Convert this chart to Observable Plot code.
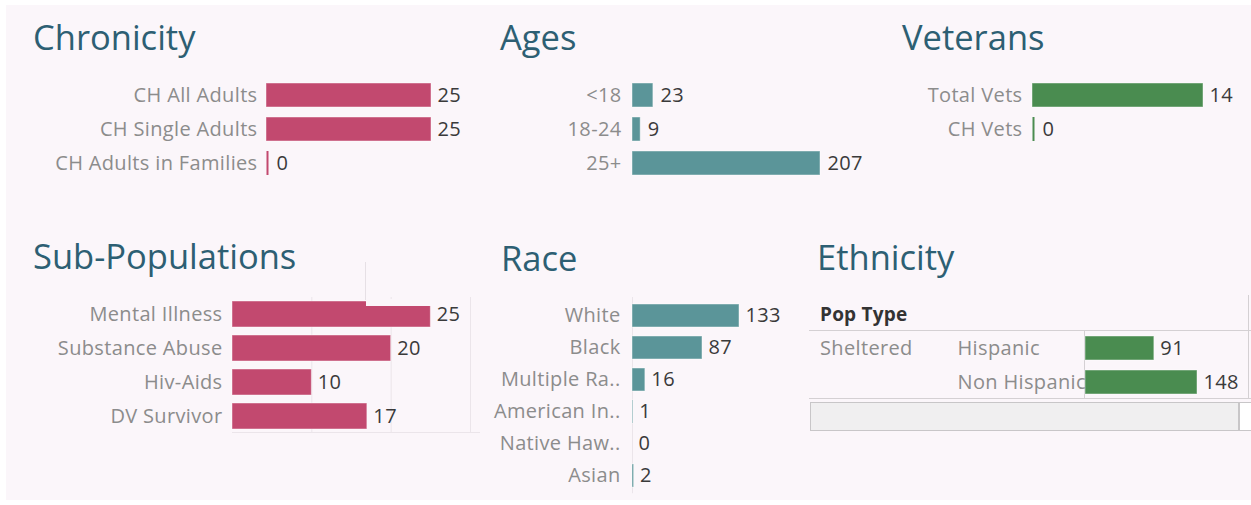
<!DOCTYPE html>
<html><head><meta charset="utf-8">
<script src="https://cdn.jsdelivr.net/npm/d3@7"></script>
<script src="https://cdn.jsdelivr.net/npm/@observablehq/plot@0.6"></script>
<style>
body{margin:0;background:#fff;}
#dash{position:relative;width:1251px;height:505px;overflow:hidden;font-family:"Open Sans",sans-serif;}
#bg{position:absolute;left:6px;top:5px;width:1245px;height:495px;background:#fbf6fa;}
.title{position:absolute;font-size:34.5px;color:#2d5f73;line-height:1;white-space:nowrap;}
.panel{position:absolute;}
.line{position:absolute;background:#d4d0d3;}
.txt{position:absolute;font-size:20px;letter-spacing:0.35px;line-height:1;white-space:nowrap;}
</style></head>
<body><div id="dash"><div id="bg"></div></div>
<script>
const chronCats = ["CH All Adults","CH Single Adults","CH Adults in Families"];
const chronVals = [25,25,0];
const ageCats = ["<18","18-24","25+"];
const ageVals = [23,9,207];
const vetCats = ["Total Vets","CH Vets"];
const vetVals = [14,0];
const subCats = ["Mental Illness","Substance Abuse","Hiv-Aids","DV Survivor"];
const subVals = [25,20,10,17];
const raceCats = ["White","Black","Multiple Ra..","American In..","Native Haw..","Asian"];
const raceVals = [133,87,16,1,0,2];
const ethCats = ["Hispanic","Non Hispanic"];
const ethVals = [91,148];
const ethGroup = "Sheltered";
const ethHeader = "Pop Type";

const PINK = "#c2496f", TEAL = "#5b9599", GREEN = "#4a8c50";
const dash = document.getElementById("dash");

function add(el, left, top){ el.style.position="absolute"; el.style.left=left+"px"; el.style.top=top+"px"; dash.appendChild(el); return el; }
function div(cls, text, left, top, extra){ const d=document.createElement("div"); d.className=cls; if(text) d.textContent=text; if(extra) Object.assign(d.style, extra); return add(d,left,top); }

function bars(o){
  const data = o.cats.map((k,i)=>({k, v:o.vals[i]}));
  const marks = [];
  if (o.grid) marks.push(Plot.ruleX(o.grid, {stroke:"#ebe5ea"}));
  if (o.axisLine) marks.push(Plot.ruleX([0], {stroke:"#ebe5ea"}));
  marks.push(Plot.barX(data, {x:"v", y:"k", fill:o.color, stroke:"#ffffff", strokeOpacity:0.45, strokeWidth:1}));
  if (o.zeroTick) marks.push(Plot.tickX(data.filter(d=>d.v===0), {x:"v", y:"k", stroke:o.color, strokeWidth:2, dx:1}));
  marks.push(Plot.axisY({tickSize:0, tickPadding:o.tickPadding ?? 10, color:"#8c8c8c", fontSize:20, label:null, textAnchor:o.textAnchor ?? "end"}));
  marks.push(Plot.text(data.filter(d=>d.v>0 || !o.zeroTick), {x:"v", y:"k", text:d=>String(d.v), dx:o.dx ?? 6, textAnchor:"start", fill:"#3a3a3a", fontSize:20}));
  if (o.zeroTick) marks.push(Plot.text(data.filter(d=>d.v===0), {x:"v", y:"k", text:d=>String(d.v), dx:10, textAnchor:"start", fill:"#3a3a3a", fontSize:20}));
  const p = Plot.plot({
    width:o.width, height:o.step*o.cats.length,
    marginLeft:o.marginLeft, marginRight:o.marginRight, marginTop:0, marginBottom:0,
    style:{background:"transparent", fontFamily:"Open Sans, sans-serif", fontSize:"20px", letterSpacing:"0.35px", overflow:"visible"},
    x:{domain:o.xDomain, axis:null},
    y:{domain:o.cats, paddingInner:o.pad ?? 0.29, paddingOuter:(o.pad ?? 0.29)/2},
    marks
  });
  return add(p, o.left, o.top);
}

// Titles
div("title","Chronicity",33,19.5);
div("title","Ages",500,19.5);
div("title","Veterans",902,19.5);
div("title","Sub-Populations",33,238.5);
div("title","Race",501,240.5);
div("title","Ethnicity",817,239.5);

// Top row
bars({cats:chronCats, vals:chronVals, color:PINK, left:0, top:78, width:470, marginLeft:266, marginRight:39, step:34, xDomain:[0,25], zeroTick:true, tickPadding:9});
bars({cats:ageCats, vals:ageVals, color:TEAL, left:470, top:78, width:400, marginLeft:162, marginRight:50, step:34, xDomain:[0,207], tickPadding:11, dx:7});
bars({cats:vetCats, vals:vetVals, color:GREEN, left:880, top:78, width:371, marginLeft:152, marginRight:48, step:34, xDomain:[0,14], zeroTick:true});

// Sub-populations
bars({cats:subCats, vals:subVals, color:PINK, left:0, top:297, width:480, marginLeft:232, marginRight:10, step:34, xDomain:[0,30], grid:[10,20,30], pad:0.25});
div("line","",232,432,{width:"248px",height:"1px",background:"#ebe5ea"});
// small overlapping artifact
div("line","",365,262,{width:"1px",height:"38px",background:"#e6e0e5"});
div("line","",366,299,{width:"66px",height:"7px",background:"#fbf6fa"});

// Race
bars({cats:raceCats, vals:raceVals, color:TEAL, left:480, top:296.5, width:330, marginLeft:152, marginRight:71, step:32.7, xDomain:[0,133], axisLine:true, tickPadding:12, pad:0.28});

// Ethnicity table
div("txt",ethHeader,820,305,{fontWeight:"700",color:"#333",fontSize:"19px",letterSpacing:"0.2px"});
div("line","",809,330,{width:"442px",height:"1px"});
div("line","",1248,295,{width:"1px",height:"103px"});
div("line","",1084,330,{width:"1px",height:"68px"});
div("line","",809,398,{width:"442px",height:"1px"});
div("","",810,402,{width:"427px",height:"27px",background:"#f0eff0",border:"1px solid #c8c6c8"});
div("","",1239,402,{width:"11px",height:"27px",background:"#ffffff",border:"1px solid #c8c6c8"});
div("txt",ethGroup,820,338,{color:"#8c8c8c"});
bars({cats:ethCats, vals:ethVals, color:GREEN, left:800, top:331, width:451, marginLeft:285, marginRight:54, step:34, xDomain:[0,148], textAnchor:"start", tickPadding:128, pad:0.3});
</script></body></html>
